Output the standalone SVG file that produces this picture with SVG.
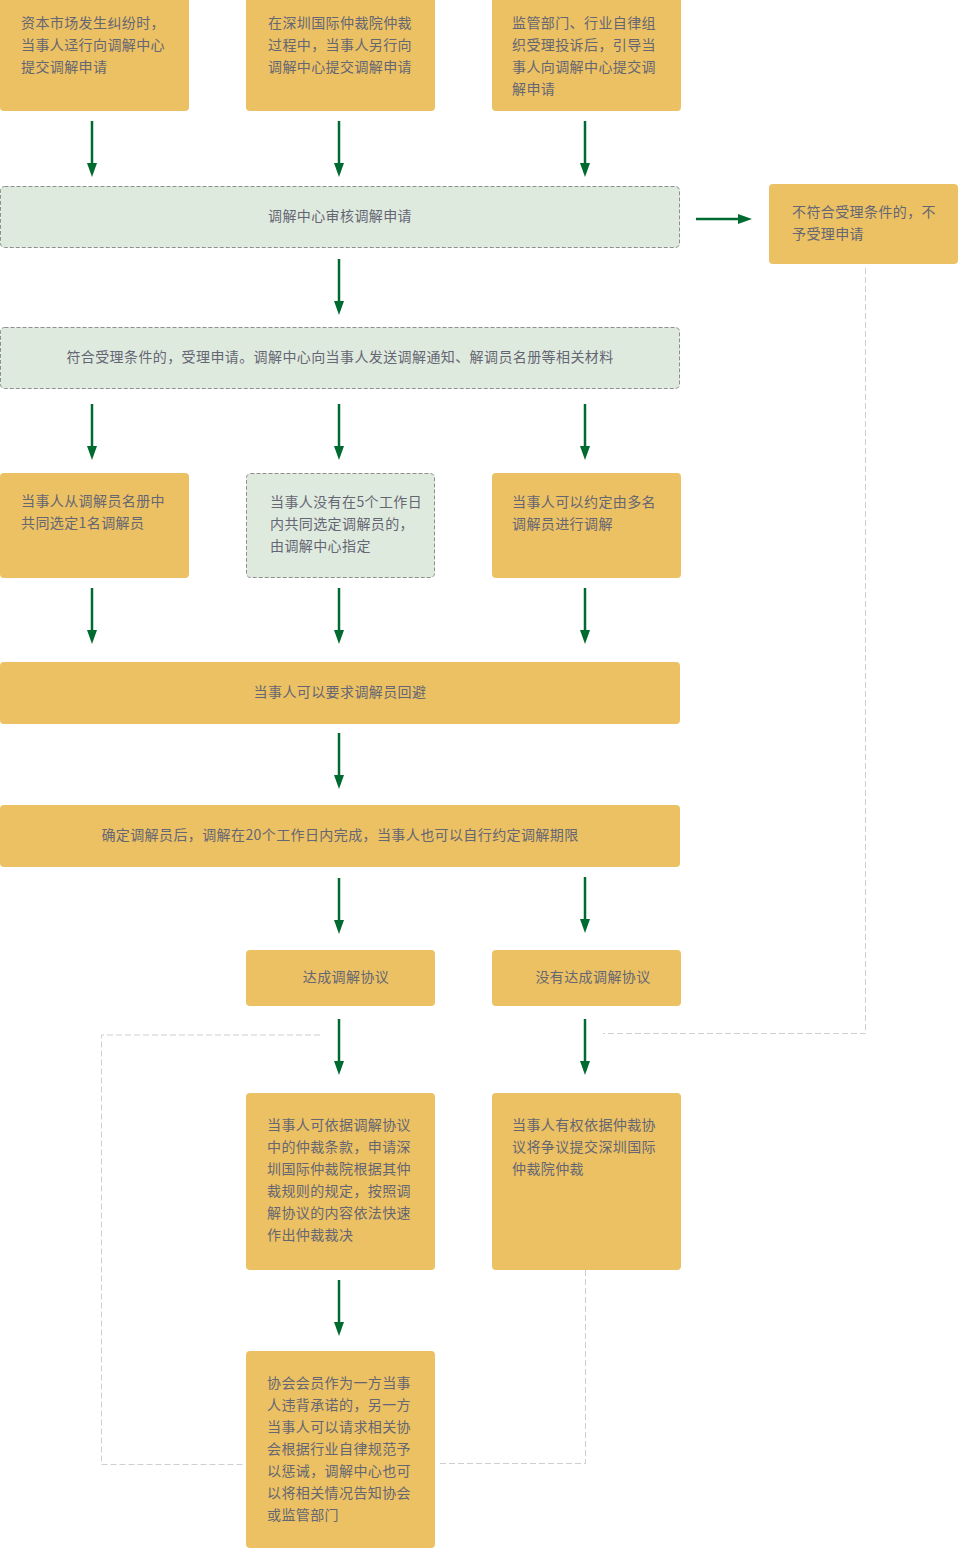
<svg xmlns="http://www.w3.org/2000/svg" width="958" height="1548" viewBox="0 0 958 1548">
<style>
.o{fill:#ECC163;}
.g{fill:#DFEADF;stroke:#8f8f8f;stroke-width:1;stroke-dasharray:4,2;}
text{font-family:"Noto Sans CJK SC","Liberation Sans",sans-serif;font-size:14px;fill:#656673;letter-spacing:0.4px;}
.c{text-anchor:middle;}
.a{stroke:#006B30;stroke-width:2.5;fill:none;marker-end:url(#ah);}
.d{stroke:#cfcfcf;stroke-width:1;stroke-dasharray:6,3;fill:none;}
</style>
<defs>
<marker id="ah" markerUnits="userSpaceOnUse" markerWidth="14" markerHeight="10" refX="0" refY="5" orient="auto" viewBox="0 0 14 10">
<path d="M0,0 L14,5 L0,10 Z" fill="#006B30"/>
</marker>
</defs>
<rect width="958" height="1548" fill="#fff"/>
<g id="connectors">
<line class="a" x1="92" y1="121" x2="92" y2="163"/>
<line class="a" x1="339" y1="121" x2="339" y2="163"/>
<line class="a" x1="585" y1="121" x2="585" y2="163"/>
<line class="a" x1="696" y1="219" x2="738" y2="219"/>
<line class="a" x1="339" y1="259" x2="339" y2="301"/>
<line class="a" x1="92" y1="404" x2="92" y2="446"/>
<line class="a" x1="339" y1="404" x2="339" y2="446"/>
<line class="a" x1="585" y1="404" x2="585" y2="446"/>
<line class="a" x1="92" y1="588" x2="92" y2="630"/>
<line class="a" x1="339" y1="588" x2="339" y2="630"/>
<line class="a" x1="585" y1="588" x2="585" y2="630"/>
<line class="a" x1="339" y1="733" x2="339" y2="775"/>
<line class="a" x1="339" y1="878" x2="339" y2="920"/>
<line class="a" x1="585" y1="877" x2="585" y2="919"/>
<line class="a" x1="339" y1="1019" x2="339" y2="1061"/>
<line class="a" x1="585" y1="1019" x2="585" y2="1061"/>
<line class="a" x1="339" y1="1280" x2="339" y2="1322"/>
<path class="d" d="M320,1035 H101.5 V1464.5 H244"/>
<path class="d" d="M865.5,268 V1033.5 H603"/>
<path class="d" d="M585.5,1270 V1463.5 H437"/>
</g>
<g id="n1">
<rect class="o" x="0" y="-5" width="189" height="116" rx="4"/>
<text x="21" y="28">资本市场发生纠纷时，</text>
<text x="21" y="50">当事人迳行向调解中心</text>
<text x="21" y="72">提交调解申请</text>
</g>
<g id="n2">
<rect class="o" x="246" y="-5" width="189" height="116" rx="4"/>
<text x="268" y="28">在深圳国际仲裁院仲裁</text>
<text x="268" y="50">过程中，当事人另行向</text>
<text x="268" y="72">调解中心提交调解申请</text>
</g>
<g id="n3">
<rect class="o" x="492" y="-5" width="189" height="116" rx="4"/>
<text x="512" y="28">监管部门、行业自律组</text>
<text x="512" y="50">织受理投诉后，引导当</text>
<text x="512" y="72">事人向调解中心提交调</text>
<text x="512" y="94">解申请</text>
</g>
<g id="n4">
<rect class="g" x="0.5" y="186.5" width="679" height="61" rx="4"/>
<text class="c" x="340" y="221">调解中心审核调解申请</text>
</g>
<g id="n5">
<rect class="o" x="769" y="184" width="189" height="80" rx="4"/>
<text x="792" y="217">不符合受理条件的，不</text>
<text x="792" y="239">予受理申请</text>
</g>
<g id="n6">
<rect class="g" x="0.5" y="327.5" width="679" height="61" rx="4"/>
<text class="c" x="340" y="362">符合受理条件的，受理申请。调解中心向当事人发送调解通知、解调员名册等相关材料</text>
</g>
<g id="n7">
<rect class="o" x="0" y="473" width="189" height="105" rx="4"/>
<text x="21" y="506">当事人从调解员名册中</text>
<text x="21" y="528">共同选定1名调解员</text>
</g>
<g id="n8">
<rect class="g" x="246.5" y="473.5" width="188" height="104" rx="4"/>
<text x="270" y="507">当事人没有在5个工作日</text>
<text x="270" y="529">内共同选定调解员的，</text>
<text x="270" y="551">由调解中心指定</text>
</g>
<g id="n9">
<rect class="o" x="492" y="473" width="189" height="105" rx="4"/>
<text x="512" y="507">当事人可以约定由多名</text>
<text x="512" y="529">调解员进行调解</text>
</g>
<g id="n10">
<rect class="o" x="0" y="662" width="680" height="62" rx="4"/>
<text class="c" x="340" y="697">当事人可以要求调解员回避</text>
</g>
<g id="n11">
<rect class="o" x="0" y="805" width="680" height="62" rx="4"/>
<text class="c" x="340" y="840">确定调解员后，调解在20个工作日内完成，当事人也可以自行约定调解期限</text>
</g>
<g id="n12">
<rect class="o" x="246" y="950" width="189" height="56" rx="4"/>
<text class="c" x="346" y="982">达成调解协议</text>
</g>
<g id="n13">
<rect class="o" x="492" y="950" width="189" height="56" rx="4"/>
<text class="c" x="593" y="982">没有达成调解协议</text>
</g>
<g id="n14">
<rect class="o" x="246" y="1093" width="189" height="177" rx="4"/>
<text x="267" y="1130">当事人可依据调解协议</text>
<text x="267" y="1152">中的仲裁条款，申请深</text>
<text x="267" y="1174">圳国际仲裁院根据其仲</text>
<text x="267" y="1196">裁规则的规定，按照调</text>
<text x="267" y="1218">解协议的内容依法快速</text>
<text x="267" y="1240">作出仲裁裁决</text>
</g>
<g id="n15">
<rect class="o" x="492" y="1093" width="189" height="177" rx="4"/>
<text x="512" y="1130">当事人有权依据仲裁协</text>
<text x="512" y="1152">议将争议提交深圳国际</text>
<text x="512" y="1174">仲裁院仲裁</text>
</g>
<g id="n16">
<rect class="o" x="246" y="1351" width="189" height="197" rx="4"/>
<text x="267" y="1388">协会会员作为一方当事</text>
<text x="267" y="1410">人违背承诺的，另一方</text>
<text x="267" y="1432">当事人可以请求相关协</text>
<text x="267" y="1454">会根据行业自律规范予</text>
<text x="267" y="1476">以惩诫，调解中心也可</text>
<text x="267" y="1498">以将相关情况告知协会</text>
<text x="267" y="1520">或监管部门</text>
</g>
</svg>
